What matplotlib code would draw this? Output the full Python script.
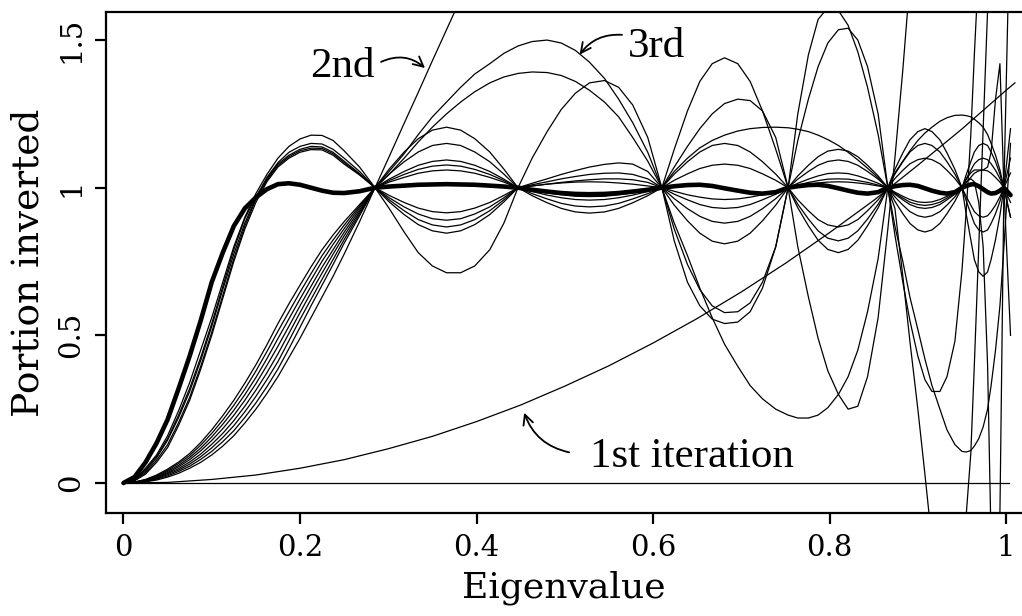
import matplotlib
matplotlib.use("Agg")
import matplotlib.pyplot as plt

# ---------------- data ----------------
# eigenvalue grid (knots at the common crossing points 0.285, 0.447, 0.61, 0.753, 0.866, 0.95, 0.9975)
XF = [0.0, 0.0125, 0.025, 0.0375, 0.05, 0.0625, 0.075, 0.0875, 0.1, 0.1125, 0.125, 0.1375,
      0.15, 0.1625, 0.175, 0.1875, 0.2, 0.2125, 0.225, 0.2375, 0.25, 0.2675, 0.285,
      0.301, 0.318, 0.334, 0.350, 0.366, 0.382, 0.398, 0.415, 0.431, 0.447,
      0.463, 0.480, 0.496, 0.512, 0.528, 0.545, 0.561, 0.577, 0.594, 0.610,
      0.624, 0.639, 0.653, 0.667, 0.681, 0.696, 0.710, 0.724, 0.739, 0.753,
      0.764, 0.776, 0.787, 0.798, 0.810, 0.821, 0.832, 0.843, 0.855, 0.866,
      0.874, 0.883, 0.891, 0.900, 0.908, 0.916, 0.925, 0.933, 0.942, 0.950,
      0.955, 0.960, 0.964, 0.969, 0.974, 0.979, 0.983, 0.988, 0.993, 0.9975,
      1.005]

# 1st iteration
x_first = [0, 0.05, 0.1, 0.15, 0.2, 0.25, 0.3, 0.35, 0.4, 0.45, 0.5, 0.55,
           0.6, 0.65, 0.7, 0.75, 0.8, 0.85, 0.9, 0.95, 1.0, 1.01]
y_first = [0, 0.002, 0.012, 0.027, 0.05, 0.079, 0.116, 0.158, 0.208, 0.264, 0.328,
           0.397, 0.474, 0.557, 0.647, 0.744, 0.848, 0.957, 1.076, 1.199, 1.33, 1.355]

# zeroth iteration (nothing inverted)
x_zero = [0.0, 1.003]
y_zero = [0.0, 0.0]

# final (thick) curve
y_thick = [0, 0.02, 0.07, 0.135, 0.215, 0.32, 0.43, 0.55, 0.68, 0.78, 0.87, 0.93,
           0.967, 0.995, 1.012, 1.015, 1.01, 1.0, 0.99, 0.983, 0.982, 0.988, 1.0,
           1.004, 1.007, 1.01, 1.011, 1.012, 1.011, 1.01, 1.007, 1.004, 1.0,
           0.993, 0.987, 0.982, 0.979, 0.978, 0.979, 0.982, 0.987, 0.993, 1.0,
           1.005, 1.009, 1.01, 1.006, 0.998, 0.99, 0.983, 0.98, 0.985, 1.0,
           1.005, 1.009, 1.01, 1.006, 0.998, 0.99, 0.983, 0.98, 0.985, 1.0,
           1.005, 1.009, 1.01, 1.006, 0.998, 0.99, 0.983, 0.98, 0.985, 1.0,
           1.006, 1.011, 1.012, 1.005, 0.995, 0.985, 0.98, 0.982, 0.99, 1.0,
           0.975]

y_second = [0, 0.001, 0.004, 0.01, 0.02, 0.033, 0.05, 0.07, 0.095, 0.125, 0.16, 0.203,
            0.25, 0.303, 0.36, 0.425, 0.49, 0.56, 0.63, 0.70, 0.775, 0.885, 1.0,
            1.105, 1.218, 1.323, 1.43, 1.535, 1.64]

y_third = [0, 0.001, 0.005, 0.013, 0.024, 0.039, 0.057, 0.08, 0.107, 0.14, 0.177, 0.222,
           0.271, 0.326, 0.386, 0.455, 0.527, 0.6, 0.67, 0.74, 0.812, 0.905, 1.0,
           1.055, 1.115, 1.18, 1.24, 1.29, 1.34, 1.385, 1.42, 1.455, 1.48,
           1.495, 1.5, 1.49, 1.465, 1.425, 1.37, 1.30, 1.22, 1.12, 1.0,
           0.88, 0.77, 0.66, 0.56, 0.47, 0.395, 0.33, 0.285, 0.25, 0.23,
           0.22, 0.22, 0.23, 0.255, 0.30, 0.36, 0.45, 0.58, 0.76, 1.0,
           1.05, 1.09, 1.125, 1.16, 1.185, 1.205, 1.225, 1.237, 1.245, 1.246,
           1.244, 1.24, 1.232, 1.22, 1.205, 1.18, 1.15, 1.11, 1.06, 1.0,
           0.9]

y_it4 = [0, 0.001, 0.006, 0.015, 0.028, 0.044, 0.064, 0.089, 0.119, 0.154, 0.194, 0.241,
         0.293, 0.35, 0.411, 0.482, 0.554, 0.622, 0.69, 0.757, 0.824, 0.912, 1.0,
         1.045, 1.10, 1.155, 1.205, 1.25, 1.29, 1.325, 1.355, 1.375, 1.387,
         1.392, 1.39, 1.38, 1.36, 1.33, 1.29, 1.24, 1.17, 1.09, 1.0,
         0.86, 0.74, 0.655, 0.60, 0.577, 0.58, 0.61, 0.68, 0.80, 1.0,
         1.16, 1.30, 1.41, 1.49, 1.535, 1.54, 1.50, 1.41, 1.25, 1.0,
         0.84, 0.68, 0.55, 0.43, 0.35, 0.31, 0.31, 0.36, 0.48, 0.72,
         0.93, 1.18, 1.45, 1.75]

y_it5 = [0, 0.003, 0.011, 0.025, 0.043, 0.066, 0.093, 0.128, 0.168, 0.213, 0.263, 0.318,
         0.379, 0.445, 0.514, 0.58, 0.646, 0.709, 0.77, 0.823, 0.873, 0.938, 1.0,
         1.046, 1.088, 1.121, 1.143, 1.15, 1.143, 1.121, 1.088, 1.046, 1.0,
         0.98, 0.962, 0.947, 0.938, 0.935, 0.938, 0.947, 0.962, 0.98, 1.0,
         1.055, 1.10, 1.135, 1.16, 1.178, 1.192, 1.2, 1.204, 1.205, 1.203,
         1.198, 1.19, 1.178, 1.163, 1.143, 1.12, 1.094, 1.066, 1.034, 1.0,
         0.87, 0.75, 0.63, 0.52, 0.42, 0.33, 0.25, 0.18, 0.13, 0.107,
         0.105, 0.11, 0.125, 0.15, 0.19, 0.25, 0.33, 0.45, 0.60, 0.80,
         1.15]

y_it6 = [0, 0.003, 0.012, 0.027, 0.047, 0.071, 0.10, 0.137, 0.18, 0.228, 0.28, 0.338,
         0.40, 0.468, 0.54, 0.607, 0.67, 0.732, 0.79, 0.84, 0.885, 0.943, 1.0,
         1.063, 1.121, 1.166, 1.195, 1.205, 1.195, 1.166, 1.121, 1.063, 1.0,
         0.973, 0.949, 0.93, 0.918, 0.914, 0.918, 0.93, 0.949, 0.973, 1.0,
         1.13, 1.26, 1.36, 1.42, 1.44, 1.42, 1.36, 1.26, 1.13, 1.0,
         0.80, 0.63, 0.49, 0.38, 0.30, 0.25, 0.26, 0.36, 0.56, 0.86,
         1.1, 1.4, 1.7]

y_it7 = [0, 0.003, 0.010, 0.022, 0.039, 0.06, 0.086, 0.118, 0.156, 0.199, 0.246, 0.299,
         0.357, 0.421, 0.489, 0.556, 0.623, 0.688, 0.751, 0.808, 0.861, 0.932, 1.0,
         1.029, 1.055, 1.076, 1.089, 1.094, 1.089, 1.076, 1.055, 1.029, 1.0,
         0.987, 0.975, 0.966, 0.96, 0.958, 0.96, 0.966, 0.975, 0.987, 1.0,
         1.07, 1.14, 1.2, 1.25, 1.285, 1.30, 1.295, 1.26, 1.17, 1.0,
         0.932, 0.871, 0.822, 0.791, 0.78, 0.791, 0.822, 0.871, 0.932, 1.0,
         1.062, 1.118, 1.162, 1.19, 1.2, 1.19, 1.162, 1.118, 1.062, 1.0,
         0.907, 0.824, 0.757, 0.715, 0.7, 0.715, 0.757, 0.824, 0.907, 1.0,
         1.2]

y_it8 = [0, 0.002, 0.009, 0.02, 0.035, 0.055, 0.079, 0.109, 0.144, 0.184, 0.229, 0.28,
         0.336, 0.398, 0.463, 0.531, 0.6, 0.666, 0.731, 0.79, 0.849, 0.925, 1.0,
         1.024, 1.045, 1.062, 1.073, 1.077, 1.073, 1.062, 1.045, 1.024, 1.0,
         0.991, 0.982, 0.976, 0.971, 0.97, 0.971, 0.976, 0.982, 0.991, 1.0,
         1.046, 1.088, 1.121, 1.143, 1.15, 1.143, 1.121, 1.088, 1.046, 1.0,
         0.944, 0.894, 0.854, 0.829, 0.82, 0.829, 0.854, 0.894, 0.944, 1.0,
         1.046, 1.088, 1.121, 1.143, 1.15, 1.143, 1.121, 1.088, 1.046, 1.0,
         0.954, 0.912, 0.879, 0.857, 0.85, 0.857, 0.879, 0.912, 0.954, 1.0,
         1.1]

y_it9 = [0, 0.002, 0.007, 0.017, 0.032, 0.049, 0.071, 0.098, 0.131, 0.168, 0.211, 0.26,
         0.314, 0.373, 0.437, 0.507, 0.577, 0.645, 0.711, 0.775, 0.837, 0.918, 1.0,
         1.019, 1.035, 1.049, 1.057, 1.06, 1.057, 1.049, 1.035, 1.019, 1.0,
         0.994, 0.988, 0.984, 0.981, 0.98, 0.981, 0.984, 0.988, 0.994, 1.0,
         1.025, 1.047, 1.065, 1.076, 1.08, 1.076, 1.065, 1.047, 1.025, 1.0,
         0.959, 0.922, 0.892, 0.874, 0.867, 0.874, 0.892, 0.922, 0.959, 1.0,
         1.031, 1.059, 1.081, 1.095, 1.1, 1.095, 1.081, 1.059, 1.031, 1.0,
         0.969, 0.941, 0.919, 0.905, 0.9, 0.905, 0.919, 0.941, 0.969, 1.0,
         1.05]

y_it10 = [0, 0.012, 0.05, 0.095, 0.16, 0.245, 0.34, 0.45, 0.56, 0.68, 0.80, 0.90,
          0.98, 1.045, 1.10, 1.14, 1.165, 1.178, 1.177, 1.16, 1.125, 1.07, 1.0,
          0.93, 0.85, 0.78, 0.735, 0.712, 0.712, 0.735, 0.79, 0.88, 1.0,
          1.10, 1.19, 1.265, 1.32, 1.355, 1.363, 1.34, 1.28, 1.17, 1.0,
          0.82, 0.68, 0.60, 0.555, 0.54, 0.545, 0.58, 0.66, 0.80, 1.0,
          1.25, 1.45, 1.57, 1.61, 1.60, 1.55, 1.46, 1.34, 1.18, 1.0,
          0.93, 0.70, 0.48, 0.25, 0.03, -0.2, -0.4, -0.5, -0.45, -0.3,
          -0.1, 0.1, 0.4, 0.8, 1.2, 1.6, 2.0]

y_it11 = [0, 0.01, 0.04, 0.085, 0.145, 0.222, 0.31, 0.415, 0.53, 0.655, 0.775, 0.88,
          0.965, 1.035, 1.085, 1.12, 1.14, 1.15, 1.148, 1.13, 1.10, 1.055, 1.0,
          0.952, 0.909, 0.875, 0.854, 0.846, 0.854, 0.875, 0.909, 0.952, 1.0,
          1.015, 1.03, 1.045, 1.058, 1.07, 1.079, 1.084, 1.08, 1.055, 1.0,
          0.941, 0.888, 0.846, 0.819, 0.81, 0.819, 0.846, 0.888, 0.941, 1.0,
          1.04, 1.076, 1.105, 1.124, 1.13, 1.124, 1.105, 1.076, 1.04, 1.0,
          0.954, 0.912, 0.879, 0.857, 0.85, 0.857, 0.879, 0.912, 0.954, 1.0,
          1.03, 1.05, 1.06, 1.06, 1.06, 1.07, 1.12, 1.30, 1.42, 1.0,
          0.5]

y_it12 = [0, 0.012, 0.045, 0.09, 0.15, 0.23, 0.32, 0.425, 0.54, 0.665, 0.79, 0.895,
          0.97, 1.03, 1.08, 1.11, 1.13, 1.14, 1.138, 1.12, 1.09, 1.048, 1.0,
          0.959, 0.922, 0.892, 0.874, 0.867, 0.874, 0.892, 0.922, 0.959, 1.0,
          1.01, 1.02, 1.03, 1.038, 1.045, 1.049, 1.05, 1.045, 1.03, 1.0,
          0.963, 0.929, 0.903, 0.886, 0.88, 0.886, 0.903, 0.929, 0.963, 1.0,
          1.029, 1.055, 1.076, 1.089, 1.094, 1.089, 1.076, 1.055, 1.029, 1.0,
          0.969, 0.941, 0.919, 0.905, 0.9, 0.905, 0.919, 0.941, 0.969, 1.0,
          1.046, 1.088, 1.121, 1.143, 1.15, 1.143, 1.121, 1.088, 1.046, 1.0,
          0.9]

y_it13 = [0, 0.009, 0.035, 0.077, 0.13, 0.205, 0.29, 0.395, 0.51, 0.635, 0.76, 0.87,
          0.96, 1.025, 1.075, 1.105, 1.125, 1.134, 1.133, 1.115, 1.085, 1.045, 1.0,
          0.966, 0.935, 0.911, 0.895, 0.89, 0.895, 0.911, 0.935, 0.966, 1.0,
          1.006, 1.012, 1.018, 1.023, 1.027, 1.03, 1.03, 1.027, 1.018, 1.0,
          0.978, 0.959, 0.943, 0.933, 0.93, 0.933, 0.943, 0.959, 0.978, 1.0,
          1.015, 1.029, 1.04, 1.048, 1.05, 1.048, 1.04, 1.029, 1.015, 1.0,
          0.978, 0.959, 0.943, 0.933, 0.93, 0.933, 0.943, 0.959, 0.978, 1.0,
          1.031, 1.059, 1.081, 1.095, 1.1, 1.095, 1.081, 1.059, 1.031, 1.0,
          0.95]

y_it14 = [0, 0.007, 0.03, 0.07, 0.12, 0.195, 0.28, 0.385, 0.5, 0.625, 0.75, 0.86,
          0.95, 1.02, 1.07, 1.1, 1.12, 1.129, 1.128, 1.11, 1.08, 1.043, 1.0,
          0.974, 0.95, 0.931, 0.919, 0.915, 0.919, 0.931, 0.95, 0.974, 1.0,
          1.006, 1.012, 1.016, 1.019, 1.02, 1.019, 1.016, 1.012, 1.006, 1.0,
          0.988, 0.976, 0.968, 0.962, 0.96, 0.962, 0.968, 0.976, 0.988, 1.0,
          1.009, 1.018, 1.024, 1.029, 1.03, 1.029, 1.024, 1.018, 1.009, 1.0,
          0.985, 0.971, 0.96, 0.952, 0.95, 0.952, 0.96, 0.971, 0.985, 1.0,
          1.019, 1.035, 1.049, 1.057, 1.06, 1.057, 1.049, 1.035, 1.019, 1.0,
          0.97]

# a late iteration that only separates from the thick curve near the top of the spectrum
x_it15 = [0.753, 0.764, 0.776, 0.787, 0.798, 0.810, 0.821, 0.832, 0.843, 0.855, 0.866,
          0.874, 0.883, 0.891, 0.900, 0.908, 0.916, 0.925, 0.933, 0.942, 0.950,
          0.955, 0.960, 0.964, 0.969, 0.974, 0.979, 0.983, 0.988, 0.993, 0.9975, 1.005]
y_it15 = [1.0, 1.006, 1.012, 1.016, 1.019, 1.02, 1.019, 1.016, 1.012, 1.006, 1.0,
          0.981, 0.965, 0.951, 0.943, 0.94, 0.943, 0.951, 0.965, 0.981, 1.0,
          1.02, 1.03, 1.02, 0.95, 0.8, 0.4, -0.2, -0.4, -0.1, 1.0, 2.0]

curves = [y_second, y_third, y_it4, y_it5, y_it6, y_it7, y_it8, y_it9,
          y_it10, y_it11, y_it12, y_it13, y_it14]

x_ticks = [0, 0.2, 0.4, 0.6, 0.8, 1.0]
x_ticklabels = ["0", "0.2", "0.4", "0.6", "0.8", "1"]
y_ticks = [0, 0.5, 1.0, 1.5]
y_ticklabels = ["0", "0.5", "1", "1.5"]

# ---------------- figure ----------------
plt.rcParams["font.family"] = ["DejaVu Serif"]
fig = plt.figure(figsize=(10.22, 6.16), dpi=100)
ax = fig.add_axes([0.1037, 0.1672, 0.8963, 0.8133])

LW = 0.9
ax.plot(x_zero, y_zero, color="black", lw=LW)
ax.plot(x_first, y_first, color="black", lw=LW)
for yc in curves:
    ax.plot(XF[:len(yc)], yc, color="black", lw=LW, solid_joinstyle="round")
ax.plot(x_it15, y_it15, color="black", lw=LW, solid_joinstyle="round")
ax.plot(XF[:len(y_thick)], y_thick, color="black", lw=3.3, solid_joinstyle="round",
        solid_capstyle="round")

ax.set_xlim(-0.0198, 1.018)
ax.set_ylim(-0.1016, 1.595)

ax.set_xticks(x_ticks)
ax.set_xticklabels(x_ticklabels, fontsize=21)
ax.set_yticks(y_ticks)
ax.set_yticklabels(y_ticklabels, fontsize=21, rotation=90, va="center")
ax.tick_params(direction="out", length=8, width=1.6, pad=7)

for s in ["left", "bottom", "top"]:
    ax.spines[s].set_linewidth(1.6)
ax.spines["right"].set_visible(False)

ax.set_xlabel("Eigenvalue", fontsize=26, labelpad=6)
ax.set_ylabel("Portion inverted", fontsize=27, labelpad=8)

ann_font = dict(family=["Liberation Serif"], fontsize=31)
ax.text(0.211, 1.375, "2nd", ha="left", va="baseline", **ann_font)
ax.annotate("", xy=(0.344, 1.399), xytext=(0.289, 1.422),
            arrowprops=dict(arrowstyle="->", lw=1.3, color="black",
                            connectionstyle="arc3,rad=-0.35", mutation_scale=18))
ax.text(0.572, 1.443, "3rd", ha="left", va="baseline", **ann_font)
ax.annotate("", xy=(0.515, 1.443), xytext=(0.568, 1.517),
            arrowprops=dict(arrowstyle="->", lw=1.3, color="black",
                            connectionstyle="arc3,rad=0.3", mutation_scale=18))
ax.text(0.5286, 0.054, "1st iteration", ha="left", va="baseline", **ann_font)
ax.annotate("", xy=(0.453, 0.247), xytext=(0.508, 0.102),
            arrowprops=dict(arrowstyle="->", lw=1.3, color="black",
                            connectionstyle="arc3,rad=-0.3", mutation_scale=18))

fig.savefig("out.png", dpi=100)
